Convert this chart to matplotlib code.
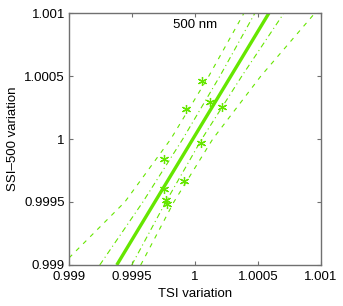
import matplotlib
matplotlib.use('Agg')
import matplotlib.pyplot as plt
import numpy as np

matplotlib.rcParams['font.family'] = ['Liberation Sans', 'DejaVu Sans']

green = '#66e600'

# scatter points (TSI, SSI-500)
tsi = [1.000058, 0.999931, 1.000121, 1.000214, 1.000048,
       0.999754, 0.999915, 0.999754, 0.999767, 0.999780]
ssi = [1.000458, 1.000238, 1.000291, 1.000254, 0.999966,
       0.999844, 0.999669, 0.999601, 0.999513, 0.999484]

# regression line (read at bottom / top of axes)
fit_x = [0.999379, 1.000587]
fit_y = [0.999, 1.001]

# confidence band (dash-dot) read at several y levels
band_y = [0.999, 0.9995, 1.0, 1.0005, 1.001]
conf_lo_x = [0.999498, 0.999768, 1.000054, 1.000372, 1.000706]
conf_hi_x = [0.999244, 0.999586, 0.999903, 1.000198, 1.000476]

# prediction band (dashed)
pred_hi_x = [0.999, 0.999443, 0.999808, 1.000110, 1.000389]
pred_hi_y = [0.999056, 0.9995, 1.0, 1.0005, 1.001]
pred_lo_x = [0.999569, 0.999832, 1.000141, 1.000523, 1.000952]

fig = plt.figure(figsize=(3.43, 3.06), dpi=100)
ax = fig.add_axes([0.2012, 0.134, 0.7347, 0.8235])

ax.plot(fit_x, fit_y, color=green, lw=2.4, solid_capstyle='butt')
ax.plot(conf_lo_x, band_y, color=green, lw=0.8, ls=(0, (5, 3, 1, 3)))
ax.plot(conf_hi_x, band_y, color=green, lw=0.8, ls=(0, (5, 3, 1, 3)))
ax.plot(pred_hi_x, pred_hi_y, color=green, lw=0.8, ls=(0, (4, 5)))
ax.plot(pred_lo_x, band_y, color=green, lw=0.8, ls=(0, (4, 5)))
ax.plot(tsi, ssi, ls='none', marker=(6, 2, 0), color=green, ms=6.5, mew=0.9)

ax.text(1.0, 1.000905, '500 nm', ha='center', va='center', fontsize=9.5)

ax.set_xlim(0.999, 1.001)
ax.set_ylim(0.999, 1.001)
ticks = [0.999, 0.9995, 1.0, 1.0005, 1.001]
labels = ['0.999', '0.9995', '1', '1.0005', '1.001']
ax.set_xticks(ticks)
ax.set_xticklabels(labels)
ax.set_yticks(ticks)
ax.set_yticklabels(labels)
ax.tick_params(direction='in', length=3, width=0.8, color='#707070',
               labelsize=9.5, top=True, right=True)
ax.tick_params(axis='x', pad=4)
ax.tick_params(axis='y', pad=3)
for s in ax.spines.values():
    s.set_color('#707070')
    s.set_linewidth(1.0)

ax.set_xlabel('TSI variation', fontsize=9.5, labelpad=4)
ax.set_ylabel('SSI\u2013500 variation', fontsize=9.5, labelpad=4)

fig.savefig('out.png', dpi=100)
